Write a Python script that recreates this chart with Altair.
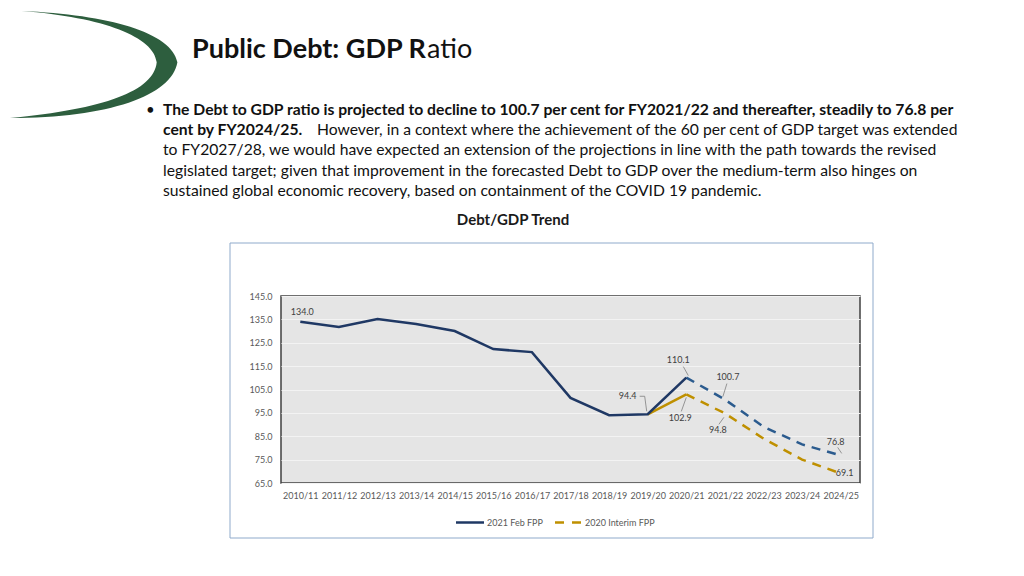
import altair as alt
import pandas as pd

# ---------------- data ----------------
years = ["2010/11", "2011/12", "2012/13", "2013/14", "2014/15", "2015/16", "2016/17",
         "2017/18", "2018/19", "2019/20", "2020/21", "2021/22", "2022/23", "2023/24", "2024/25"]

feb_actual_years = years[:11]
feb_actual = [134.0, 131.7, 135.2, 133.0, 130.0, 122.3, 121.0, 101.4, 94.0, 94.4, 110.1]

feb_proj_years = years[10:]
feb_proj = [110.1, 100.7, 89.1, 81.5, 76.8]

interim_solid_years = years[9:11]
interim_solid = [94.4, 102.9]

interim_proj_years = years[10:]
interim_proj = [102.9, 94.8, 84.0, 75.0, 69.1]

y_ticks = [65, 75, 85, 95, 105, 115, 125, 135, 145]

label_years = ["2010/11", "2020/21", "2021/22", "2019/20", "2020/21", "2021/22", "2024/25", "2024/25"]
label_values = [134.0, 110.1, 100.7, 94.4, 102.9, 94.8, 76.8, 69.1]
label_texts = ["134.0", "110.1", "100.7", "94.4", "102.9", "94.8", "76.8", "69.1"]

series_names = ["2021 Feb FPP", "2020 Interim FPP"]

title_bold = "Public Debt: GDP R"
title_rest = "atio"
para_lines = [
    ("The Debt to GDP ratio is projected to decline to 100.7 per cent for FY2021/22 and thereafter, steadily to 76.8 per", True),
    ("cent by FY2024/25.", True),
    ("to FY2027/28, we would have expected an extension of the projections in line with the path towards the revised", False),
    ("legislated target; given that improvement in the forecasted Debt to GDP over the medium-term also hinges on", False),
    ("sustained global economic recovery, based on containment of the COVID 19 pandemic.", False),
]
para_line2_rest = "However, in a context where the achievement of the 60 per cent of GDP target was extended"
chart_title = "Debt/GDP Trend"

# ---------------- styles ----------------
NAVY = "#1f3864"
PROJ_BLUE = "#2b5b8e"
GOLD = "#bf9000"
FONT = "Lato"
W, H = 579, 187
OX, OY = 281, 296  # page position of plot origin
PARA = 15.7


def px(x):
    return x - OX


def py(y):
    return y - OY


def frame(xs, vals):
    return pd.DataFrame({"year": xs, "value": vals})


X = alt.X("year:N", scale=alt.Scale(type="point", padding=0.5, domain=years),
          axis=alt.Axis(title=None, labelAngle=0, labelFontSize=9, labelColor="#595959",
                        labelFont=FONT, labelPadding=8, ticks=False, domain=False, grid=False))
Y = alt.Y("value:Q", scale=alt.Scale(domain=[65, 145], nice=False, zero=False),
          axis=alt.Axis(title=None, values=y_ticks, format=".1f", labelFontSize=9,
                        labelColor="#595959", labelFont=FONT, labelPadding=9, ticks=False,
                        domain=False, grid=True, gridColor="#f3f3f3", gridWidth=1))

one = pd.DataFrame({"a": [0]})
layers = []

# chart box
layers.append(alt.Chart(one).mark_rect(fill=None, stroke="#8faacb", strokeWidth=1).encode(
    x=alt.value(px(230)), x2=alt.value(px(873)), y=alt.value(py(243)), y2=alt.value(py(538))))

# lines
layers.append(alt.Chart(frame(interim_solid_years, interim_solid)).mark_line(
    color=GOLD, strokeWidth=2.5).encode(x=X, y=Y))
layers.append(alt.Chart(frame(interim_proj_years, interim_proj)).mark_line(
    color=GOLD, strokeWidth=2.5, strokeDash=[9, 7]).encode(x=X, y=Y))
layers.append(alt.Chart(frame(feb_proj_years, feb_proj)).mark_line(
    color=PROJ_BLUE, strokeWidth=2.5, strokeDash=[9, 7]).encode(x=X, y=Y))
layers.append(alt.Chart(frame(feb_actual_years, feb_actual)).mark_line(
    color=NAVY, strokeWidth=2.5).encode(x=X, y=Y))

# data labels (offsets in px from the point) and leader lines
label_offsets = [(2, -10), (-8, -18), (3, -23), (-20, -18), (-6, 24), (-7, 17), (-5, -13), (4, 0)]
leaders = [None, [(-3, -11, 2, -2)], [(2, -16, -2, -3)], [(-8, -18, -3, -18), (-3, -18, -1, -3)],
           [(0, 3, -5, 17)], [(-1, 4, -6, 11)], [(-3, -8, 1, -2)], None]
for yr, val, txt, (dx, dy), lead in zip(label_years, label_values, label_texts, label_offsets, leaders):
    d = pd.DataFrame({"year": [yr], "value": [val], "t": [txt]})
    layers.append(alt.Chart(d).mark_text(dx=dx, dy=dy, fontSize=9, font=FONT, color="#404040",
                                         align="center", baseline="middle").encode(x=X, y=Y, text="t:N"))
    if lead:
        for (x1, y1, x2, y2) in lead:
            layers.append(alt.Chart(d).mark_rule(color="#7f7f7f", strokeWidth=0.8, xOffset=x1, yOffset=y1,
                                                 x2Offset=x2, y2Offset=y2).encode(
                x=X, y=Y, x2=alt.X2("year"), y2=alt.Y2("value")))

# legend
layers.append(alt.Chart(one).mark_rule(color=NAVY, strokeWidth=2.5).encode(
    x=alt.value(px(456)), x2=alt.value(px(484)), y=alt.value(py(522.5)), y2=alt.value(py(522.5))))
layers.append(alt.Chart(one).mark_rule(color=GOLD, strokeWidth=2.5, strokeDash=[9, 8]).encode(
    x=alt.value(px(555)), x2=alt.value(px(581)), y=alt.value(py(522.5)), y2=alt.value(py(522.5))))
layers.append(alt.Chart(one).mark_text(align="left", baseline="middle", fontSize=9, font=FONT,
                                      color="#595959").encode(
    x=alt.value(px(487)), y=alt.value(py(522.5)), text=alt.value(series_names[0])))
layers.append(alt.Chart(one).mark_text(align="left", baseline="middle", fontSize=9, font=FONT,
                                      color="#595959").encode(
    x=alt.value(px(585)), y=alt.value(py(522.5)), text=alt.value(series_names[1])))

# chart heading
layers.append(alt.Chart(one).mark_text(align="center", baseline="middle", fontSize=15, font=FONT,
                                      fontWeight="bold", color="#1a1a1a").encode(
    x=alt.value(px(513)), y=alt.value(py(220)), text=alt.value(chart_title)))

# slide title
layers.append(alt.Chart(one).mark_text(align="left", baseline="middle", fontSize=27, font=FONT,
                                      fontWeight="bold", color="#111111").encode(
    x=alt.value(px(192)), y=alt.value(py(50)), text=alt.value(title_bold)))
layers.append(alt.Chart(one).mark_text(align="left", baseline="middle", fontSize=27, font=FONT,
                                      color="#111111").encode(
    x=alt.value(px(427)), y=alt.value(py(50)), text=alt.value(title_rest)))

# bullet + paragraph
layers.append(alt.Chart(one).mark_text(align="left", baseline="middle", fontSize=15, font=FONT,
                                      color="#111111").encode(
    x=alt.value(px(146)), y=alt.value(py(110)), text=alt.value("•")))
line_y = [110, 130, 150, 171, 191]
for (txt, bold), yy in zip(para_lines, line_y):
    layers.append(alt.Chart(one).mark_text(align="left", baseline="middle", fontSize=PARA, font=FONT,
                                          fontWeight="bold" if bold else "normal", color="#111111").encode(
        x=alt.value(px(163)), y=alt.value(py(yy)), text=alt.value(txt)))
layers.append(alt.Chart(one).mark_text(align="left", baseline="middle", fontSize=PARA, font=FONT,
                                      color="#111111").encode(
    x=alt.value(px(317)), y=alt.value(py(130)), text=alt.value(para_line2_rest)))

# logo crescent
crescent = ("M -0.87 -0.59 C 0.1 -0.55 0.8 -0.35 0.86 -0.02 C 0.8 0.35 0.1 0.6 -1.0 0.6 "
            "C 0.05 0.5 0.6 0.3 0.63 -0.02 C 0.6 -0.3 0.05 -0.52 -0.87 -0.59 Z")
layers.append(alt.Chart(one).mark_point(shape=crescent, filled=True, fill="#2d5e3e", stroke=None,
                                       opacity=1, size=180 * 180).encode(
    x=alt.value(px(100)), y=alt.value(py(64))))

chart = alt.layer(*layers).properties(
    width=W, height=H,
    autosize=alt.AutoSizeParams(type="none"),
    padding={"left": OX - 8, "top": OY - 8, "right": 1008 - (OX - 8) - W, "bottom": 560 - (OY - 8) - H},
    background="white",
).configure_view(fill="#e5e5e5", stroke="#404040", strokeWidth=1.5)

chart.save("out.html", embed_options={"renderer": "svg", "actions": False})
